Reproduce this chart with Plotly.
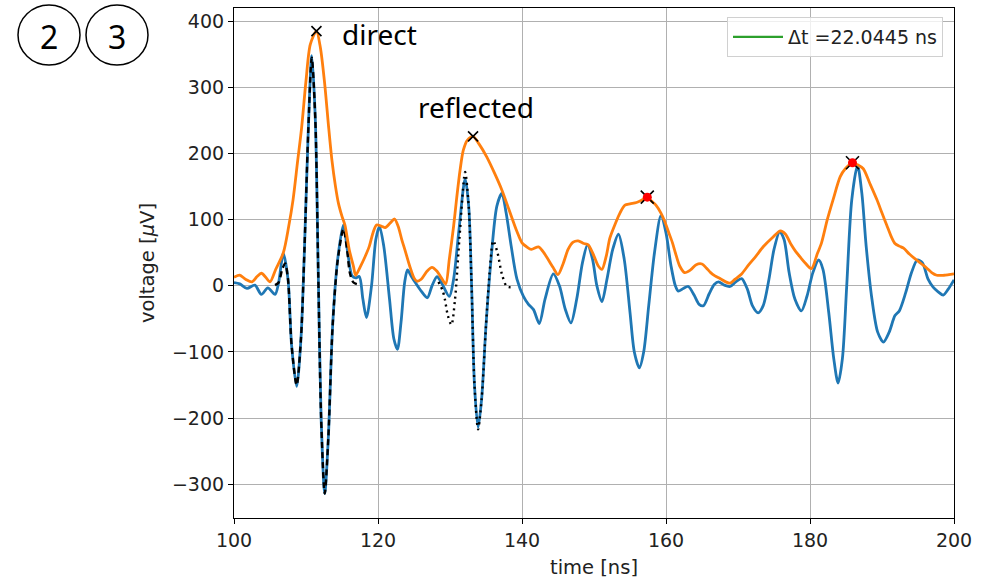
import plotly.graph_objects as go

# ---- data ----
signal_t = [100.0, 100.8, 101.8, 102.9, 103.8, 104.7, 105.7, 106.2, 106.85, 107.5, 108.0, 108.7, 109.3, 109.8,
            110.3, 110.8, 111.3, 111.7, 112.1, 112.6, 113.1, 113.7, 114.4, 115.2, 115.8, 116.4, 116.9, 117.4,
            117.9, 118.4, 119.1, 119.7, 120.2, 120.8, 121.6, 122.2, 122.7, 123.2, 123.7, 124.1, 124.6, 125.3,
            126.0, 126.85, 127.5, 128.2, 128.8, 129.9, 130.5, 131.2, 132.1, 132.6, 133.0, 133.4, 133.9, 134.4,
            135.0, 135.7, 136.5, 137.2, 137.8, 138.5, 139.3, 140.2, 140.9, 141.6, 142.4, 143.2, 144.35, 145.2,
            146.0, 146.8, 147.6, 148.4, 149.1, 149.8, 150.4, 151.1, 151.8, 152.6, 153.4, 154.2, 155.0, 155.6,
            156.3, 156.9, 157.6, 158.4, 159.3, 160.0, 160.7, 161.3, 161.7, 162.4, 163.1, 163.9, 164.6, 165.2,
            166.0, 166.7, 167.3, 168.1, 168.9, 169.7, 170.5, 171.3, 172.0, 172.8, 173.5, 174.3, 175.0, 175.8,
            176.4, 177.1, 177.9, 178.8, 179.6, 180.4, 181.2, 181.8, 182.6, 183.3, 183.9, 184.5, 185.1, 185.8,
            186.6, 187.2, 187.8, 188.6, 189.4, 190.2, 191.0, 191.8, 192.4, 193.3, 194.1, 194.9, 195.6, 196.4,
            197.1, 197.8, 198.5, 199.2, 200.0]
signal_v = [5, 3, -4, 1, -13, -3, -13, 5, 49, 10, -90, -152, -80, 60,
            230, 348, 250, 20, -200, -314, -230, -60, 40, 92, 50, 15, 12, 14,
            -20, -48, 0, 70, 90, 60, -20, -80, -96, -55, 5, 24, 15, 3,
            -8, -18, 0, 14, 5, -16, 10, 80, 162, 120, 0, -150, -214, -170,
            -60, 40, 120, 140, 110, 60, 10, -16, -28, -36, -57, -20, 18, 0,
            -35, -56, -20, 35, 62, 40, 0, -24, 10, 55, 78, 40, -40, -100,
            -124, -100, -30, 50, 106, 80, 30, 0, -8, -4, -1, -14, -28, -30,
            -12, 2, 6, 1, -1, 6, 11, -5, -30, -41, -30, 10, 55, 82,
            70, 20, -20, -38, -15, 20, 39, 25, -40, -110, -147, -110, 0, 130,
            182, 140, 60, -20, -70, -85, -70, -45, -38, -10, 20, 39, 35, 10,
            -2, -9, -14, -5, 9]

envelope_t = [100.0, 100.8, 101.6, 102.5, 103.2, 103.8, 104.4, 105.0, 105.8, 106.85, 107.6, 108.2, 108.8, 109.4,
              110.0, 110.6, 111.45, 112.0, 112.6, 113.1, 113.6, 114.1, 114.5, 115.0, 115.4, 116.0, 116.6, 116.9,
              117.5, 118.2, 118.8, 119.3, 119.8, 120.5, 121.0, 121.7, 122.3, 122.8, 123.3, 123.75, 124.4, 125.0,
              125.4, 126.0, 126.8, 127.5, 128.2, 128.8, 129.4, 129.9, 130.5, 130.9, 131.4, 131.85, 132.4, 133.2,
              134.0, 135.1, 136.2, 137.2, 138.2, 139.3, 140.0, 140.65, 141.3, 142.3, 142.9, 143.4, 144.3, 145.0,
              145.7, 146.4, 147.1, 147.8, 148.6, 149.2, 150.0, 150.6, 151.1, 151.7, 152.2, 153.0, 153.6, 154.3,
              155.0, 155.9, 156.7, 157.4, 158.0, 158.6, 159.3, 159.8, 160.4, 160.9, 161.3, 161.9, 162.6, 163.4,
              164.2, 165.0, 165.6, 166.2, 166.8, 167.5, 168.3, 168.9, 169.6, 170.5, 171.5, 172.5, 173.5, 174.8,
              175.9, 176.6, 177.4, 178.0, 178.6, 179.3, 180.2, 181.0, 181.6, 182.4, 183.2, 184.2, 184.9, 185.9,
              186.6, 187.4, 188.3, 189.3, 190.0, 190.65, 191.3, 191.8, 192.4, 193.0, 193.8, 194.8, 195.5, 196.2,
              196.9, 197.6, 198.6, 199.3, 200.0]
envelope_v = [13, 16, 10, 6, 14, 19, 13, 6, 25, 50, 90, 130, 185, 240,
              310, 365, 385, 360, 305, 245, 190, 150, 125, 105, 92, 55, 29, 16,
              28, 44, 60, 80, 92, 90, 88, 95, 101, 90, 70, 54, 30, 12,
              7, 10, 22, 28, 22, 12, 3, 40, 90, 130, 175, 205, 220, 226,
              215, 195, 170, 145, 115, 82, 65, 59, 55, 59, 52, 44, 28, 17,
              33, 55, 66, 68, 64, 62, 45, 30, 25, 45, 72, 95, 110, 122,
              124, 126, 130, 134, 128, 122, 110, 98, 80, 65, 50, 30, 20, 24,
              32, 33, 27, 20, 15, 11, 6, 4, 10, 18, 32, 45, 59, 73,
              83, 78, 62, 52, 44, 35, 26, 48, 65, 100, 130, 165, 177, 186,
              183, 177, 155, 130, 110, 92, 74, 64, 60, 57, 48, 39, 33, 27,
              20, 16, 16, 17, 18]

direct_t = [105.7, 106.2, 106.7, 107.1, 107.5, 108.0, 108.7, 109.3, 109.8, 110.3, 110.8, 111.3, 111.7, 112.1,
            112.6, 113.1, 113.7, 114.4, 115.2, 115.7, 116.1, 116.6, 117.3]
direct_v = [1, 5, 25, 34, 10, -90, -150, -80, 60, 230, 345, 250, 20, -200,
            -314, -230, -60, 38, 86, 55, 19, 5, 2]

reflected_t = [128.4, 129.0, 129.3, 129.7, 130.2, 130.7, 131.3, 132.1, 132.6, 133.0, 133.4, 133.9, 134.4,
               135.0, 135.5, 136.0, 136.6, 137.2, 137.9, 138.8]
reflected_v = [6, -8, -21, -45, -59, -20, 70, 172, 120, 0, -150, -217, -170,
               -60, 20, 68, 50, 18, -1, -2]

peak_labels = ["direct", "reflected"]
peak_t = [111.45, 133.2]
peak_v = [385, 226]

picked_t = [157.4, 185.9]
picked_v = [134, 186]

legend_label = "Δt =22.0445 ns"
panel_numbers = ["2", "3"]

x_ticks = [100, 120, 140, 160, 180, 200]
y_ticks = [-300, -200, -100, 0, 100, 200, 300, 400]

# ---- figure ----
W, H = 990, 579
L, R, T, B = 234, 36, 8, 61
pw, ph = W - L - R, H - T - B

def px2paper(px, py):
    return (px - L) / pw, (H - B - py) / ph

fig = go.Figure()
fig.add_trace(go.Scatter(x=signal_t, y=signal_v, mode="lines", line=dict(color="#1f77b4", width=2.8, shape="spline", smoothing=0.8), showlegend=False))
fig.add_trace(go.Scatter(x=direct_t, y=direct_v, mode="lines", line=dict(color="black", width=2.4, dash="6px,4px", shape="spline", smoothing=0.8), showlegend=False))
fig.add_trace(go.Scatter(x=reflected_t, y=reflected_v, mode="lines", line=dict(color="black", width=2.4, dash="2px,4px", shape="spline", smoothing=0.8), showlegend=False))
fig.add_trace(go.Scatter(x=envelope_t, y=envelope_v, mode="lines", line=dict(color="#ff7f0e", width=2.8, shape="spline", smoothing=0.8), showlegend=False))
fig.add_trace(go.Scatter(x=peak_t, y=peak_v, mode="markers", marker=dict(symbol="x-thin", size=10, line=dict(color="black", width=1.6)), showlegend=False))
fig.add_trace(go.Scatter(x=picked_t, y=picked_v, mode="markers", marker=dict(symbol="x-thin", size=13, line=dict(color="black", width=1.6)), showlegend=False))
fig.add_trace(go.Scatter(x=picked_t, y=picked_v, mode="markers", marker=dict(symbol="circle", size=9, color="red", line=dict(width=0)), showlegend=False))
fig.add_trace(go.Scatter(x=[None], y=[None], mode="lines", line=dict(color="#2ca02c", width=2.4), name=legend_label, showlegend=True))

# peak text labels
fig.add_annotation(x=114.7, y=381, text=peak_labels[0], showarrow=False, xanchor="left", yanchor="middle",
                   font=dict(family="Noto Sans", size=28, color="black"))
fig.add_annotation(x=133.6, y=271, text=peak_labels[1], showarrow=False, xanchor="center", yanchor="middle",
                   font=dict(family="Noto Sans", size=28, color="black"))

# circled panel numbers
for cx, label in zip([49, 117], panel_numbers):
    x0, y0 = px2paper(cx - 31, 5)
    x1, y1 = px2paper(cx + 31, 65)
    fig.add_shape(type="circle", xref="paper", yref="paper", x0=x0, y0=y1, x1=x1, y1=y0,
                  line=dict(color="black", width=1.5))
    ax, ay = px2paper(cx, 36)
    fig.add_annotation(xref="paper", yref="paper", x=ax, y=ay, text=label, showarrow=False,
                       xanchor="center", yanchor="middle", font=dict(family="Noto Sans", size=32, color="black"))

axis_common = dict(showline=True, linecolor="black", linewidth=1.2, mirror=True, ticks="outside", ticklen=5,
                   tickcolor="black", showgrid=True, gridcolor="#b0b0b0", gridwidth=1, zeroline=False,
                   tickfont=dict(family="DejaVu Sans", size=19, color="#222"))
fig.update_xaxes(range=[100, 200], tickvals=x_ticks, title=dict(text="time [ns]", font=dict(family="DejaVu Sans", size=19.5, color="#222"), standoff=10), **axis_common)
fig.update_yaxes(range=[-351, 420], tickvals=y_ticks, title=dict(text="voltage [<i>μ</i>V]", font=dict(family="DejaVu Sans", size=19.5, color="#222"), standoff=12), **axis_common)

lx, ly = px2paper(943, 17)
fig.update_layout(width=W, height=H, margin=dict(l=L, r=R, t=T, b=B, autoexpand=False),
                  plot_bgcolor="white", paper_bgcolor="white",
                  legend=dict(x=lx, y=ly, xanchor="right", yanchor="top", bgcolor="rgba(255,255,255,0.8)",
                              bordercolor="#d0d0d0", borderwidth=1, itemwidth=50,
                              font=dict(family="DejaVu Sans", size=19, color="#222")),
                  showlegend=True)

fig.write_html("out.html", config={"displayModeBar": False}, post_script="document.body.style.margin='0px';")
